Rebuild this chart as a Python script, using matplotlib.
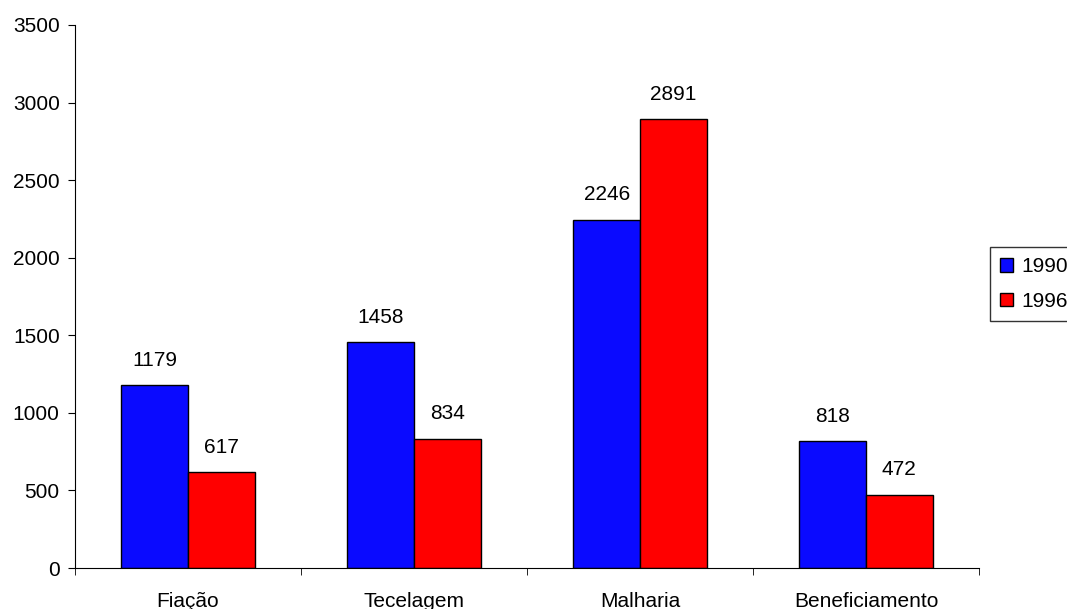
import matplotlib.pyplot as plt
import numpy as np

plt.rcParams['font.family'] = ['Liberation Sans', 'DejaVu Sans']

categorias = ['Fiação', 'Tecelagem', 'Malharia', 'Beneficiamento']
anos = ['1990', '1996']
v1990 = [1179, 1458, 2246, 818]
v1996 = [617, 834, 2891, 472]

fs = 15

fig = plt.figure(figsize=(10.67, 6.09), dpi=100)
ax = fig.add_axes([75/1067, 1-568/609, 904/1067, 543/609])

x = np.arange(len(categorias))
w = 0.295
b1 = ax.bar(x - w/2, v1990, w, color='#0a0aff', edgecolor='black', linewidth=1, label=anos[0])
b2 = ax.bar(x + w/2, v1996, w, color='#ff0000', edgecolor='black', linewidth=1, label=anos[1])

for bars in (b1, b2):
    for r in bars:
        ax.annotate(str(int(r.get_height())), (r.get_x() + r.get_width()/2, r.get_height()),
                    xytext=(0, 11), textcoords='offset points', ha='center', va='bottom', fontsize=fs)

ax.set_xlim(-0.5, len(categorias) - 0.5)
ax.set_ylim(0, 3500)
ax.set_yticks(np.arange(0, 3501, 500))
ax.set_xticks(x)
ax.set_xticklabels(categorias)
ax.set_xticks(np.arange(-0.5, len(categorias)), minor=True)
ax.tick_params(axis='x', which='major', length=0, pad=17, labelsize=fs)
ax.tick_params(axis='x', which='minor', length=5, direction='out')
ax.tick_params(axis='y', length=5, direction='out', labelsize=fs, pad=6)
for s in ['top', 'right']:
    ax.spines[s].set_visible(False)

leg = fig.legend(loc='upper left', bbox_to_anchor=(990/1067, 1-247/609), frameon=True,
                 fancybox=False, edgecolor='black', fontsize=fs, handlelength=0.6,
                 handleheight=0.6, handletextpad=0.4, borderpad=0.5, labelspacing=0.75,
                 borderaxespad=0)
leg.get_frame().set_linewidth(1)

fig.savefig('out.png', dpi=100)
